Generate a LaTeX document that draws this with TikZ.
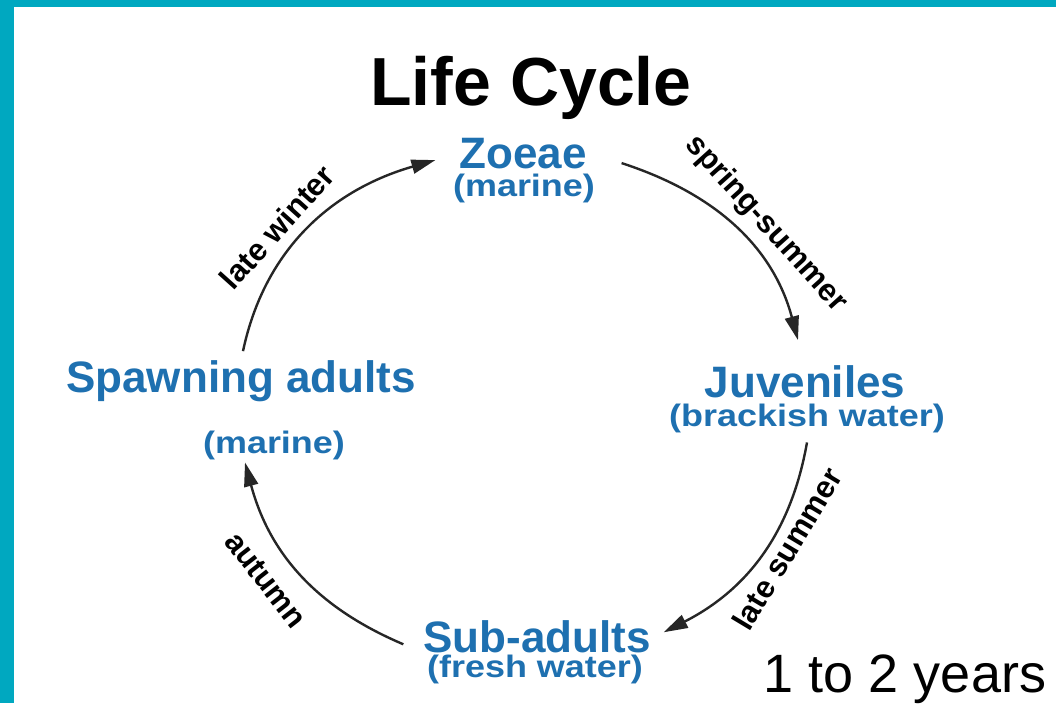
\documentclass[tikz,border=0pt]{standalone}
\usepackage{fontspec}
\setmainfont{Liberation Sans}
\newfontfamily\habfont[FakeStretch=1.16]{Liberation Sans}
\usetikzlibrary{arrows.meta}
\definecolor{frame}{RGB}{0,168,192}
\definecolor{stage}{RGB}{30,112,176}

\begin{document}
\begin{tikzpicture}[x=0.5pt,y=-0.5pt,inner sep=0pt,outer sep=0pt,
  stagename/.style={text=stage,font=\fontsize{22pt}{24pt}\selectfont\bfseries,anchor=base},
  hab/.style={text=stage,font=\habfont\fontsize{15.5pt}{17pt}\selectfont\bfseries,anchor=base},
  season/.style={font=\fontsize{15.5pt}{17pt}\selectfont\bfseries},
  cyc/.style={draw=black!85,line width=1.2pt,-{Triangle[length=12pt,width=7pt]}}]
% Frame
\fill[frame] (0,0) rectangle (1056,703);
\fill[white] (14,7) rectangle (1056,703);
% Stages
\node [anchor=base,font=\fontsize{34pt}{36pt}\selectfont\bfseries] (Title) at (531,105) {Life Cycle};
\node [stagename] (Zoeae) at (523,168) {Zoeae};
\node [hab] (ZoeaeHab) at (524,196) {(marine)};
\node [stagename] (Juv) at (805,397) {Juveniles};
\node [hab] (JuvHab) at (807,426) {(brackish water)};
\node [stagename] (SubAd) at (537,652) {Sub-adults};
\node [hab] (SubAdHab) at (535,677) {(fresh water)};
\node [stagename] (Spawn) at (241,392) {Spawning adults};
\node [hab] (SpawnHab) at (274,453) {(marine)};
\node [anchor=base,font=\fontsize{27pt}{29pt}\selectfont] (Years) at (905,692) {1 to 2 years};
% Stage Connections
\draw [cyc] ([shift={(2,-9)}]Spawn.north) to[out=78,in=196] ([shift={(-24,7)}]Zoeae.west);
\draw [cyc] ([shift={(35,10)}]Zoeae.east) to[out=-18,in=105] ([shift={(-7,-25)}]Juv.north);
\draw [cyc] ([shift={(0,10)}]JuvHab.south) to[out=-100,in=27] ([shift={(13,-4)}]SubAd.east);
\draw [cyc] ([shift={(-20,8)}]SubAd.west) to[out=157,in=-75] ([shift={(-29,3)}]SpawnHab.south);
% Season Labels
\node [season,rotate=48] (LateWinter) at (277,227) {late winter};
\node [season,rotate=-48] (SpringSummer) at (766,224) {spring-summer};
\node [season,rotate=59] (LateSummer) at (787,549) {late summer};
\node [season,rotate=-52] (Autumn) at (266,580) {autumn};
\end{tikzpicture}
\end{document}
